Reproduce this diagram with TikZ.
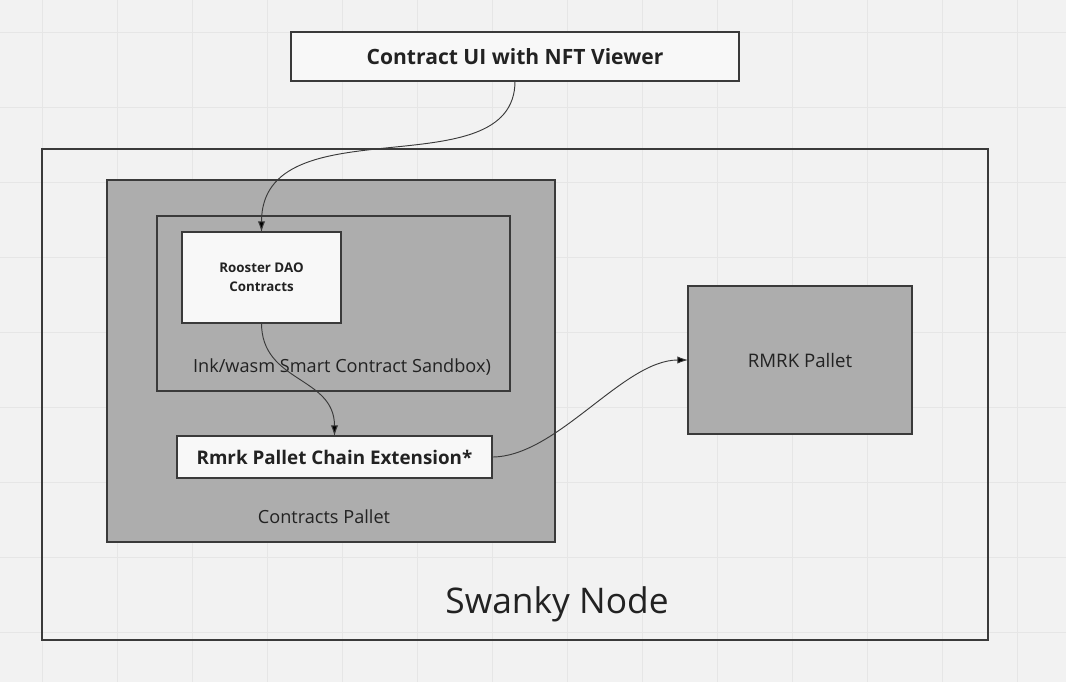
\documentclass[tikz,border=0pt]{standalone}
\usepackage{fontspec}
\setmainfont{Open Sans}
\usetikzlibrary{arrows.meta}
\definecolor{bgcol}{HTML}{F2F2F2}
\definecolor{gridcol}{HTML}{E6E6E6}
\definecolor{panel}{HTML}{ADADAD}
\definecolor{card}{HTML}{F8F8F8}
\definecolor{edge}{HTML}{3A3A3A}
\definecolor{ink}{HTML}{222222}
\begin{document}
\begin{tikzpicture}[x=0.75pt,y=-0.75pt,
  frame/.style={draw=edge,line width=1.2pt},
  card box/.style={frame,fill=card,inner sep=0pt,outer sep=0pt,text=ink,align=center},
  panel box/.style={frame,fill=panel,inner sep=0pt,outer sep=0pt,text=ink},
  label/.style={text=ink,inner sep=0pt},
  link/.style={draw=edge,line width=0.7pt,-{Latex[length=8pt,width=5.5pt,fill=black]}}]
% background and grid
\fill [bgcol] (0,0) rectangle (1066,682);
\useasboundingbox (0,0) rectangle (1066,682);
\foreach \x in {42,117,...,1017} \draw [gridcol,line width=0.75pt] (\x,0) -- (\x,682);
\foreach \y in {32,107,...,632} \draw [gridcol,line width=0.75pt] (0,\y) -- (1066,\y);
% containers
\draw [frame] (42,149) rectangle (988,640);
\draw [frame,fill=panel] (107,180) rectangle (555,542);
\draw [frame,fill=panel] (157,216) rectangle (510,391);
\node [label,font=\fontsize{26.5}{32}\selectfont] (swanky) at (557,604) {Swanky Node};
\node [label,font=\fontsize{13.6}{17}\selectfont] (pallet) at (324,517) {Contracts Pallet};
\node [label,font=\fontsize{13.6}{17}\selectfont] (sandbox) at (342,367) {Ink/wasm Smart Contract Sandbox)};
% boxes
\node [card box,minimum width=336pt,minimum height=36.75pt,font=\bfseries\fontsize{15.8}{20}\selectfont] (ui) at (515,56.5) {Contract UI with NFT Viewer};
\node [card box,minimum width=119.25pt,minimum height=68.25pt,font=\bfseries\fontsize{10}{14.25}\selectfont] (rooster) at (261.5,277.5) {Rooster DAO\\Contracts};
\node [card box,minimum width=236.25pt,minimum height=31.5pt,font=\bfseries\fontsize{14.1}{18}\selectfont] (ext) at (334.5,457) {Rmrk Pallet Chain Extension*};
\node [panel box,minimum width=168pt,minimum height=111pt,font=\fontsize{14}{17}\selectfont] (rmrk) at (800,360) {RMRK Pallet};
% connectors
\draw [link] (ui.south) .. controls +(0,110) and +(0,-130) .. (rooster.north);
\draw [link] (rooster.south) .. controls +(0,60) and +(0,-60) .. (ext.north);
\draw [link] (ext.east) .. controls +(65,0) and +(-65,0) .. (rmrk.west);
\end{tikzpicture}
\end{document}
